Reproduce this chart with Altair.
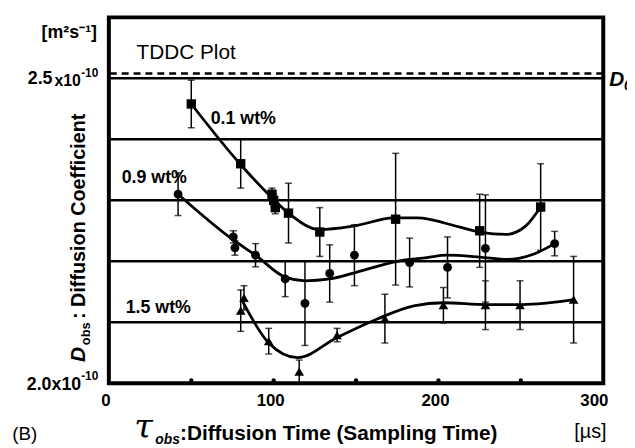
import altair as alt
import pandas as pd

# ---------------- data (values in units of 1e-10 m^2 s^-1, time in µs) ----------------
# 0.1 wt% (squares)
sq_x = [50, 80, 99, 100, 101, 109, 128, 174, 225, 262]
sq_y = [2.458, 2.360, 2.310, 2.300, 2.288, 2.279, 2.248, 2.269, 2.250, 2.289]
sq_e = [0.039, 0.040, 0.010, 0.010, 0.010, 0.049, 0.040, 0.108, 0.060, 0.071]

# 0.9 wt% (circles)
ci_x = [42, 75.5, 76.5, 89, 107, 119, 134, 149, 182.5, 205.5, 228.5, 270.5]
ci_y = [2.310, 2.240, 2.222, 2.210, 2.171, 2.131, 2.180, 2.210, 2.198, 2.190, 2.221, 2.229]
ci_e = [0.035, 0.010, 0.012, 0.019, 0.029, 0.069, 0.047, 0.050, 0.040, 0.050, 0.088, 0.020]

# 1.5 wt% (triangles)
tr_x = [80, 82, 97, 115.5, 138.5, 167.5, 203, 228.5, 249.5, 282]
tr_y = [2.119, 2.140, 2.069, 2.019, 2.079, 2.106, 2.128, 2.128, 2.128, 2.137]
tr_e = [0.034, 0.020, 0.021, 0.019, 0.011, 0.040, 0.029, 0.040, 0.040, 0.071]

# fitted curves
c1_x = [50, 79.5, 100.5, 109, 128, 149, 173, 187, 213, 225, 241, 253, 262]
c1_y = [2.458, 2.360, 2.300, 2.279, 2.252, 2.258, 2.271, 2.271, 2.256, 2.248, 2.244, 2.258, 2.289]
c2_x = [42, 75.5, 89, 107, 119, 134, 149, 175, 193, 205, 225, 242, 258, 270.5]
c2_y = [2.310, 2.235, 2.210, 2.174, 2.168, 2.171, 2.181, 2.200, 2.206, 2.210, 2.207, 2.203, 2.212, 2.229]
c3_x = [81, 97, 114.5, 138.5, 162.5, 185, 203, 229, 251, 282]
c3_y = [2.135, 2.066, 2.042, 2.075, 2.105, 2.127, 2.132, 2.129, 2.129, 2.137]

grid_vals = [2.1, 2.2, 2.3, 2.4, 2.5]
d0_val = [2.508]
minor_ticks = [50, 100, 150, 200, 250]
x_labels = [0, 100, 200]
x_label_last = [300]

# ---------------- scales ----------------
xs = alt.Scale(domain=[0, 300], nice=False, zero=False)
ys = alt.Scale(domain=[2.0, 2.6], nice=False, zero=False)
FONT = "Liberation Sans"


def X(f):
    return alt.X(f, type="quantitative", scale=xs, axis=None)


def Y(f):
    return alt.Y(f, type="quantitative", scale=ys, axis=None)


def series(xv, yv, ev, shape, size):
    df = pd.DataFrame({"x": xv, "y": yv, "lo": [a - b for a, b in zip(yv, ev)],
                       "hi": [a + b for a, b in zip(yv, ev)]})
    base = alt.Chart(df)
    bars = base.mark_rule(color="black", strokeWidth=1.5).encode(x=X("x"), y=Y("lo"), y2="hi")
    cap_lo = base.mark_tick(color="black", orient="horizontal", size=7, thickness=1.5).encode(x=X("x"), y=Y("lo"))
    cap_hi = base.mark_tick(color="black", orient="horizontal", size=7, thickness=1.5).encode(x=X("x"), y=Y("hi"))
    pts = base.mark_point(shape=shape, filled=True, color="black", size=size, opacity=1).encode(x=X("x"), y=Y("y"))
    return [bars, cap_lo, cap_hi, pts]


def curve(xv, yv):
    df = pd.DataFrame({"x": xv, "y": yv})
    return alt.Chart(df).mark_line(color="black", strokeWidth=2.8, interpolate="monotone").encode(
        x=X("x"), y=Y("y"))


one = pd.DataFrame({"a": [0]})


def txt(s, x, y, size=18, weight="bold", style="normal", align="left", angle=0, font=FONT,
        baseline="middle"):
    kw = dict(text=s, fontSize=size, fontWeight=weight, fontStyle=style, align=align,
              baseline=baseline, font=font, color="black")
    if angle:
        kw["angle"] = angle
    return alt.Chart(one).mark_text(**kw).encode(x=alt.value(x), y=alt.value(y))


grid = alt.Chart(pd.DataFrame({"g": grid_vals})).mark_rule(color="black", strokeWidth=2.5).encode(y=Y("g"))
d0 = alt.Chart(pd.DataFrame({"d": d0_val})).mark_rule(
    color="black", strokeWidth=2.5, strokeDash=[7, 5]).encode(y=Y("d"))
ticks = alt.Chart(pd.DataFrame({"t": minor_ticks, "v": [2.0] * len(minor_ticks)})).mark_circle(
    color="black", size=18, opacity=1, yOffset=-3).encode(x=X("t"), y=Y("v"))
xl1 = alt.Chart(pd.DataFrame({"t": x_labels})).mark_text(
    font=FONT, fontSize=17, fontWeight="bold", color="black", dx=-3, baseline="middle").encode(
    x=X("t"), y=alt.value(388), text=alt.Text("t:Q"))
xl2 = alt.Chart(pd.DataFrame({"t": x_label_last})).mark_text(
    font=FONT, fontSize=17, fontWeight="bold", color="black", dx=-9, baseline="middle").encode(
    x=X("t"), y=alt.value(388), text=alt.Text("t:Q"))

layers = [grid, d0, ticks, xl1, xl2,
          curve(c1_x, c1_y), curve(c2_x, c2_y), curve(c3_x, c3_y)]
layers += series(sq_x, sq_y, sq_e, "square", 90)
layers += series(ci_x, ci_y, ci_e, "circle", 80)
layers += series(tr_x, tr_y, tr_e, "triangle-up", 95)

# annotations
layers += [
    txt("TDDC Plot", 28, 36, size=21, weight="normal"),
    txt("0.1 wt%", 103, 103, size=18),
    txt("0.9 wt%", 13, 163, size=18),
    txt("1.5 wt%", 17, 294, size=18),
    txt("D", 506, 63, size=21, style="italic"),
    txt("0", 521, 69, size=14, style="italic"),
    txt("[m²s⁻¹]", -12, 16, size=18, align="right"),
    txt("2.5", -57, 62, size=18, align="right"),
    txt("x10", -55, 64, size=16),
    txt("-10", -28, 56, size=12),
    txt("2.0x10", -28, 372, size=18, align="right"),
    txt("-10", -28, 363, size=12),
    # y title (rotated)
    txt("D", -30, 341, size=21, style="italic", align="center", angle=270),
    txt("obs", -23, 320, size=13, align="center", angle=270),
    txt(": Diffusion Coefficient", -30, 305, size=20, align="left", angle=270),
    # x title
    txt("τ", 35, 415, size=34, weight="normal", style="italic", align="center", font="DejaVu Serif"),
    txt("obs", 47, 427, size=14, style="italic"),
    txt(":Diffusion Time (Sampling Time)", 72, 421, size=21),
    txt("[µs]", 487, 419, size=20, weight="normal", align="center"),
    txt("(B)", -85, 421, size=19, weight="normal", align="center"),
]

chart = alt.layer(*layers).properties(
    width=500, height=370,
    autosize=alt.AutoSizeParams(type="none"),
    padding={"left": 102, "top": 7, "right": 24, "bottom": 62},
).configure(
    background="white",
    view=alt.ViewConfig(stroke="black", strokeWidth=4),
)

chart.save("out.html", embed_options={"renderer": "svg", "actions": False})
